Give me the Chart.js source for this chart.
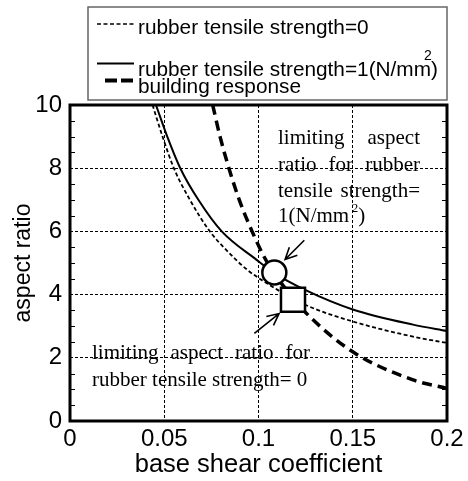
<!DOCTYPE html>
<html>
<head>
<meta charset="utf-8">
<script src="https://cdn.jsdelivr.net/npm/chart.js@4.4.0/dist/chart.umd.min.js"></script>
<style>
  html, body { margin: 0; padding: 0; background: #fff; }
  #wrap { width: 468px; height: 481px; }
</style>
</head>
<body>
<div id="wrap"><canvas id="ratioChart" width="468" height="481"></canvas></div>
<script>
// limiting aspect ratio, rubber tensile strength = 0
const strength0X = [0.0438, 0.0491, 0.0551, 0.0636, 0.0742, 0.0831, 0.0937, 0.106, 0.1247, 0.15, 0.182, 0.2];
const strength0Y = [10, 9, 8, 7, 6, 5.4, 4.8, 4.3, 3.68, 3.15, 2.67, 2.47];

// limiting aspect ratio, rubber tensile strength = 1 N/mm2
const strength1X = [0.0456, 0.0516, 0.0585, 0.0681, 0.0805, 0.099, 0.1084, 0.1247, 0.15, 0.182, 0.2];
const strength1Y = [10, 9, 8, 7, 6, 5.1, 4.68, 4.15, 3.53, 3.05, 2.85];

// building response
const responseX = [0.0757, 0.0796, 0.0843, 0.0898, 0.0966, 0.1034, 0.1084, 0.1183, 0.1247, 0.15, 0.182, 0.2];
const responseY = [10, 9, 8, 7, 6, 5.15, 4.66, 3.9, 3.45, 2.19, 1.3, 1.03];

// intersection points
const circlePoint = [0.1084, 4.7];
const squarePoint = [0.1183, 3.84];

const xTickLabels = ["0", "0.05", "0.1", "0.15", "0.2"];
const yTickLabels = ["0", "2", "4", "6", "8", "10"];

const legendLabels = ["rubber tensile strength=0", "rubber tensile strength=1(N/mm", "building response"];

const toPoints = (xs, ys) => xs.map((x, i) => ({ x: x, y: ys[i] }));

function justify(ctx, words, x0, x1, y) {
  const total = words.reduce((s, w) => s + ctx.measureText(w).width, 0);
  const gap = (x1 - x0 - total) / (words.length - 1);
  let x = x0;
  words.forEach(w => {
    ctx.fillText(w, x, y);
    x += ctx.measureText(w).width + gap;
  });
}

function arrow(ctx, x0, y0, x1, y1) {
  const ang = Math.atan2(y1 - y0, x1 - x0);
  const head = 13;
  ctx.beginPath();
  ctx.moveTo(x0, y0);
  ctx.lineTo(x1, y1);
  ctx.moveTo(x1 - head * Math.cos(ang - 0.45), y1 - head * Math.sin(ang - 0.45));
  ctx.lineTo(x1, y1);
  ctx.lineTo(x1 - head * Math.cos(ang + 0.45), y1 - head * Math.sin(ang + 0.45));
  ctx.stroke();
}

const decorPlugin = {
  id: "decor",
  afterDatasetsDraw(chart) {
    const { ctx, chartArea: a, scales } = chart;
    const y = scales.y;
    ctx.save();
    ctx.strokeStyle = "#000";
    // minor ticks on left and right axes
    ctx.lineWidth = 1.2;
    for (let v = 0.5; v < 10; v += 0.5) {
      if (v % 2 === 0) continue;
      const py = Math.round(y.getPixelForValue(v)) + 0.5;
      ctx.beginPath();
      ctx.moveTo(a.left, py); ctx.lineTo(a.left + 5, py);
      ctx.moveTo(a.right, py); ctx.lineTo(a.right - 5, py);
      ctx.stroke();
    }
    // frame
    ctx.lineWidth = 3;
    ctx.strokeRect(a.left, a.top, a.right - a.left, a.bottom - a.top);
    ctx.restore();
  },
  afterDraw(chart) {
    const { ctx, scales } = chart;
    const px = v => scales.x.getPixelForValue(v);
    const py = v => scales.y.getPixelForValue(v);
    ctx.save();

    // legend box
    ctx.fillStyle = "#fff";
    ctx.fillRect(88, 7, 359, 93);
    ctx.strokeStyle = "#666";
    ctx.lineWidth = 1.5;
    ctx.strokeRect(88, 7, 359, 93);

    ctx.strokeStyle = "#000";
    ctx.lineWidth = 1.5;
    ctx.setLineDash([4, 2.5]);
    ctx.beginPath(); ctx.moveTo(97, 24); ctx.lineTo(135, 24); ctx.stroke();
    ctx.setLineDash([]);
    ctx.lineWidth = 2;
    ctx.beginPath(); ctx.moveTo(97, 63.5); ctx.lineTo(134, 63.5); ctx.stroke();
    ctx.lineWidth = 4;
    ctx.setLineDash([12, 4]);
    ctx.beginPath(); ctx.moveTo(105, 80.5); ctx.lineTo(134, 80.5); ctx.stroke();
    ctx.setLineDash([]);

    ctx.fillStyle = "#000";
    ctx.font = "20.8px 'Liberation Sans', Arial, sans-serif";
    ctx.textBaseline = "alphabetic";
    ctx.textAlign = "left";
    ctx.fillText(legendLabels[0], 138, 33.5);
    ctx.fillText(legendLabels[1], 138, 76);
    const w1 = ctx.measureText(legendLabels[1]).width;
    ctx.fillText(")", 138 + w1, 76);
    ctx.fillText(legendLabels[2], 138, 92.5);
    ctx.font = "14px 'Liberation Sans', Arial, sans-serif";
    ctx.fillText("2", 138 + w1 - 7, 60);

    // annotation texts
    ctx.font = "21px 'Liberation Serif', 'Times New Roman', serif";
    justify(ctx, ["limiting", "aspect"], 278, 420, 143.5);
    justify(ctx, ["ratio", "for", "rubber"], 278, 420, 170.5);
    justify(ctx, ["tensile", "strength="], 278, 420, 197);
    ctx.fillText("1(N/mm", 278, 222);
    const wm = ctx.measureText("1(N/mm").width;
    ctx.fillText(")", 278 + wm + 9, 222);
    ctx.font = "13px 'Liberation Serif', 'Times New Roman', serif";
    ctx.fillText("2", 278 + wm + 2.5, 212);

    ctx.font = "21px 'Liberation Serif', 'Times New Roman', serif";
    justify(ctx, ["limiting", "aspect", "ratio", "for"], 92, 310, 358.5);
    ctx.fillText("rubber tensile strength= 0", 92, 386);

    // arrows
    ctx.lineWidth = 1.6;
    arrow(ctx, px(0.1243), py(5.72), px(0.1141), py(5.11));
    arrow(ctx, px(0.0978), py(2.77), px(0.1109), py(3.40));
    ctx.restore();
  }
};

new Chart(document.getElementById("ratioChart"), {
  type: "scatter",
  data: {
    datasets: [
      {
        label: "limit (strength=1)",
        data: [{ x: circlePoint[0], y: circlePoint[1] }],
        pointStyle: "circle",
        pointRadius: 12,
        backgroundColor: "#fff",
        borderColor: "#000",
        borderWidth: 2.5,
        order: 0
      },
      {
        label: "limit (strength=0)",
        data: [{ x: squarePoint[0], y: squarePoint[1] }],
        pointStyle: "rect",
        pointRadius: 17,
        backgroundColor: "#fff",
        borderColor: "#000",
        borderWidth: 2.5,
        order: 0
      },
      {
        label: legendLabels[0],
        data: toPoints(strength0X, strength0Y),
        showLine: true,
        borderColor: "#000",
        borderWidth: 1.8,
        borderDash: [4, 2.5],
        pointRadius: 0,
        cubicInterpolationMode: "monotone",
        order: 1
      },
      {
        label: legendLabels[1],
        data: toPoints(strength1X, strength1Y),
        showLine: true,
        borderColor: "#000",
        borderWidth: 2,
        pointRadius: 0,
        cubicInterpolationMode: "monotone",
        order: 1
      },
      {
        label: legendLabels[2],
        data: toPoints(responseX, responseY),
        showLine: true,
        borderColor: "#000",
        borderWidth: 3.5,
        borderDash: [10, 6],
        pointRadius: 0,
        cubicInterpolationMode: "monotone",
        order: 1
      }
    ]
  },
  options: {
    responsive: false,
    animation: false,
    devicePixelRatio: 1,
    layout: { padding: { top: 105, right: 21, left: 0, bottom: 0 } },
    plugins: { legend: { display: false }, tooltip: { enabled: false } },
    scales: {
      x: {
        type: "linear",
        min: 0,
        max: 0.2,
        afterFit: s => { s.height = 60; },
        ticks: {
          stepSize: 0.05,
          padding: 4,
          color: "#000",
          font: { family: "'Liberation Sans', Arial, sans-serif", size: 24 },
          maxRotation: 0,
          callback: (v, i) => xTickLabels[i]
        },
        grid: { color: "#000", lineWidth: 1, drawTicks: false },
        border: { display: false, dash: [3, 2] },
        title: {
          display: true,
          text: "base shear coefficient",
          color: "#000",
          font: { family: "'Liberation Sans', Arial, sans-serif", size: 25.5, lineHeight: 1 },
          padding: { top: 0, bottom: 3 }
        }
      },
      y: {
        type: "linear",
        min: 0,
        max: 10,
        afterFit: s => { s.width = 70; },
        ticks: {
          stepSize: 2,
          padding: 8,
          color: "#000",
          font: { family: "'Liberation Sans', Arial, sans-serif", size: 24 },
          callback: (v, i) => yTickLabels[i]
        },
        grid: { color: "#000", lineWidth: 1, drawTicks: false },
        border: { display: false, dash: [3, 2] },
        title: {
          display: true,
          text: "aspect ratio",
          color: "#000",
          font: { family: "'Liberation Sans', Arial, sans-serif", size: 23, lineHeight: 1 },
          padding: { top: 12, bottom: 0 }
        }
      }
    }
  },
  plugins: [decorPlugin]
});
</script>
</body>
</html>
